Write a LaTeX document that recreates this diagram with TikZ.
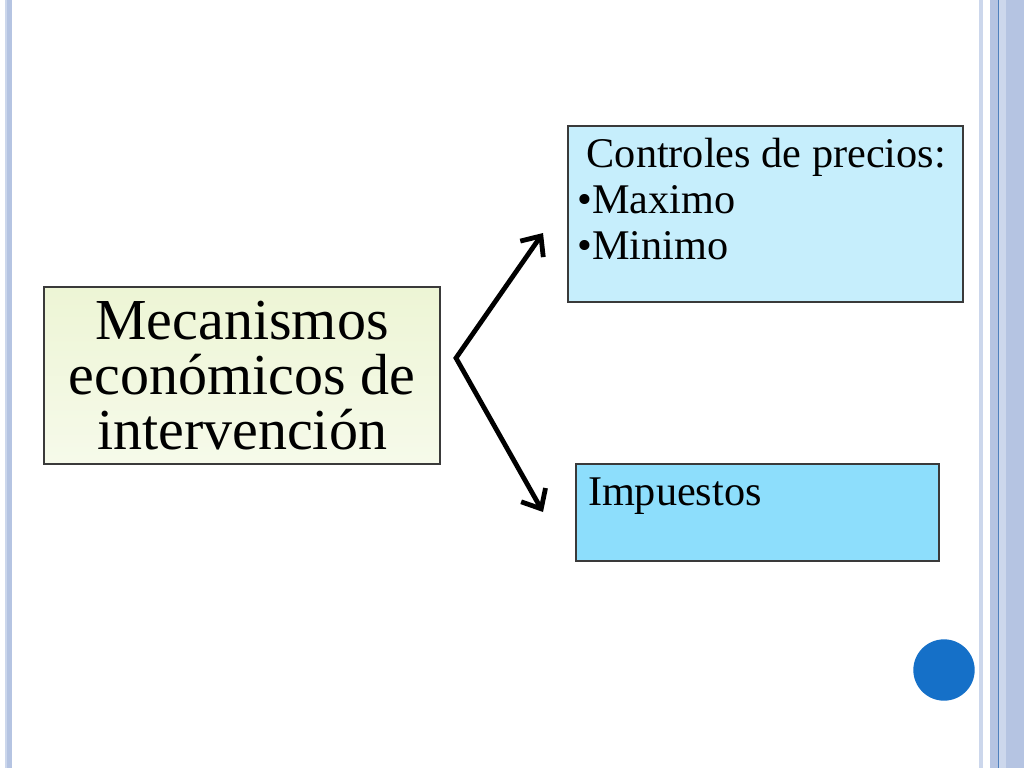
\documentclass[tikz,border=0pt]{standalone}
\usepackage{fontspec}
\setmainfont{Liberation Serif}
\usetikzlibrary{arrows.meta}
\definecolor{stripe}{HTML}{B5C4E2}
\definecolor{stripelt}{HTML}{CCD7EC}
\definecolor{stripedk}{HTML}{4F81BD}
\definecolor{greentop}{HTML}{EDF5D5}
\definecolor{greenbot}{HTML}{F6FAEA}
\definecolor{lightcyan}{HTML}{C6EEFC}
\definecolor{cyanbox}{HTML}{8DDEFC}
\definecolor{dotblue}{HTML}{1570C8}
\definecolor{edge}{HTML}{3A3A3A}
\tikzset{
  boxbase/.style={draw=edge, line width=0.8pt, inner sep=0pt, outer sep=0pt, anchor=north west},
  mainbox/.style={boxbase, top color=greentop, bottom color=greenbot, align=center,
    font=\fontsize{43.5}{41.5}\selectfont},
  sidebox/.style={boxbase, font=\fontsize{31.7}{34.5}\selectfont},
  arr/.style={line width=3.6pt, line join=miter, {Straight Barb[length=12pt,width=21pt]}-{Straight Barb[length=12pt,width=21pt]}}
}
\begin{document}
\begin{tikzpicture}[x=0.75pt,y=-0.75pt]
\useasboundingbox (0,0) rectangle (1024,768);
\fill[white] (0,0) rectangle (1024,768);
% side stripes
\fill[stripelt] (5,0) rectangle (7,768);
\fill[stripe] (7,0) rectangle (12,768);
\fill[stripelt] (979,0) rectangle (983,768);
\fill[stripe] (990,0) rectangle (998,768);
\fill[stripedk] (998,0) rectangle (999.3,768);
\fill[stripelt] (999.3,0) rectangle (1006,768);
\fill[stripe] (1006,0) rectangle (1024,768);
% boxes
\node[mainbox, minimum width=297pt, minimum height=132.75pt] (mec) at (44,287)
  {Mecanismos\\económicos de\\intervención};
\node[sidebox, fill=lightcyan, minimum width=296.25pt, minimum height=132pt] (ctrl) at (568,126)
  {\begin{minipage}[t][132pt][t]{296.25pt}\vspace{9pt}%
   \hspace*{14pt}Controles de precios:\\
   \hspace*{7pt}•Maximo\\
   \hspace*{7pt}•Minimo\end{minipage}};
\node[sidebox, fill=cyanbox, minimum width=272.25pt, minimum height=72.75pt] (imp) at (576,464)
  {\begin{minipage}[t][72.75pt][t]{272.25pt}\vspace{10pt}%
   \hspace*{9pt}Impuestos\end{minipage}};
% arrows
\coordinate (vtx) at (456,358);
\coordinate (tipup) at (543,233);
\coordinate (tipdn) at (543,512);
\draw[arr] (tipup) -- (vtx) -- (tipdn);
% dot
\node[circle, fill=dotblue, minimum size=46pt, inner sep=0pt] (dot) at (944,670) {};
\end{tikzpicture}
\end{document}
